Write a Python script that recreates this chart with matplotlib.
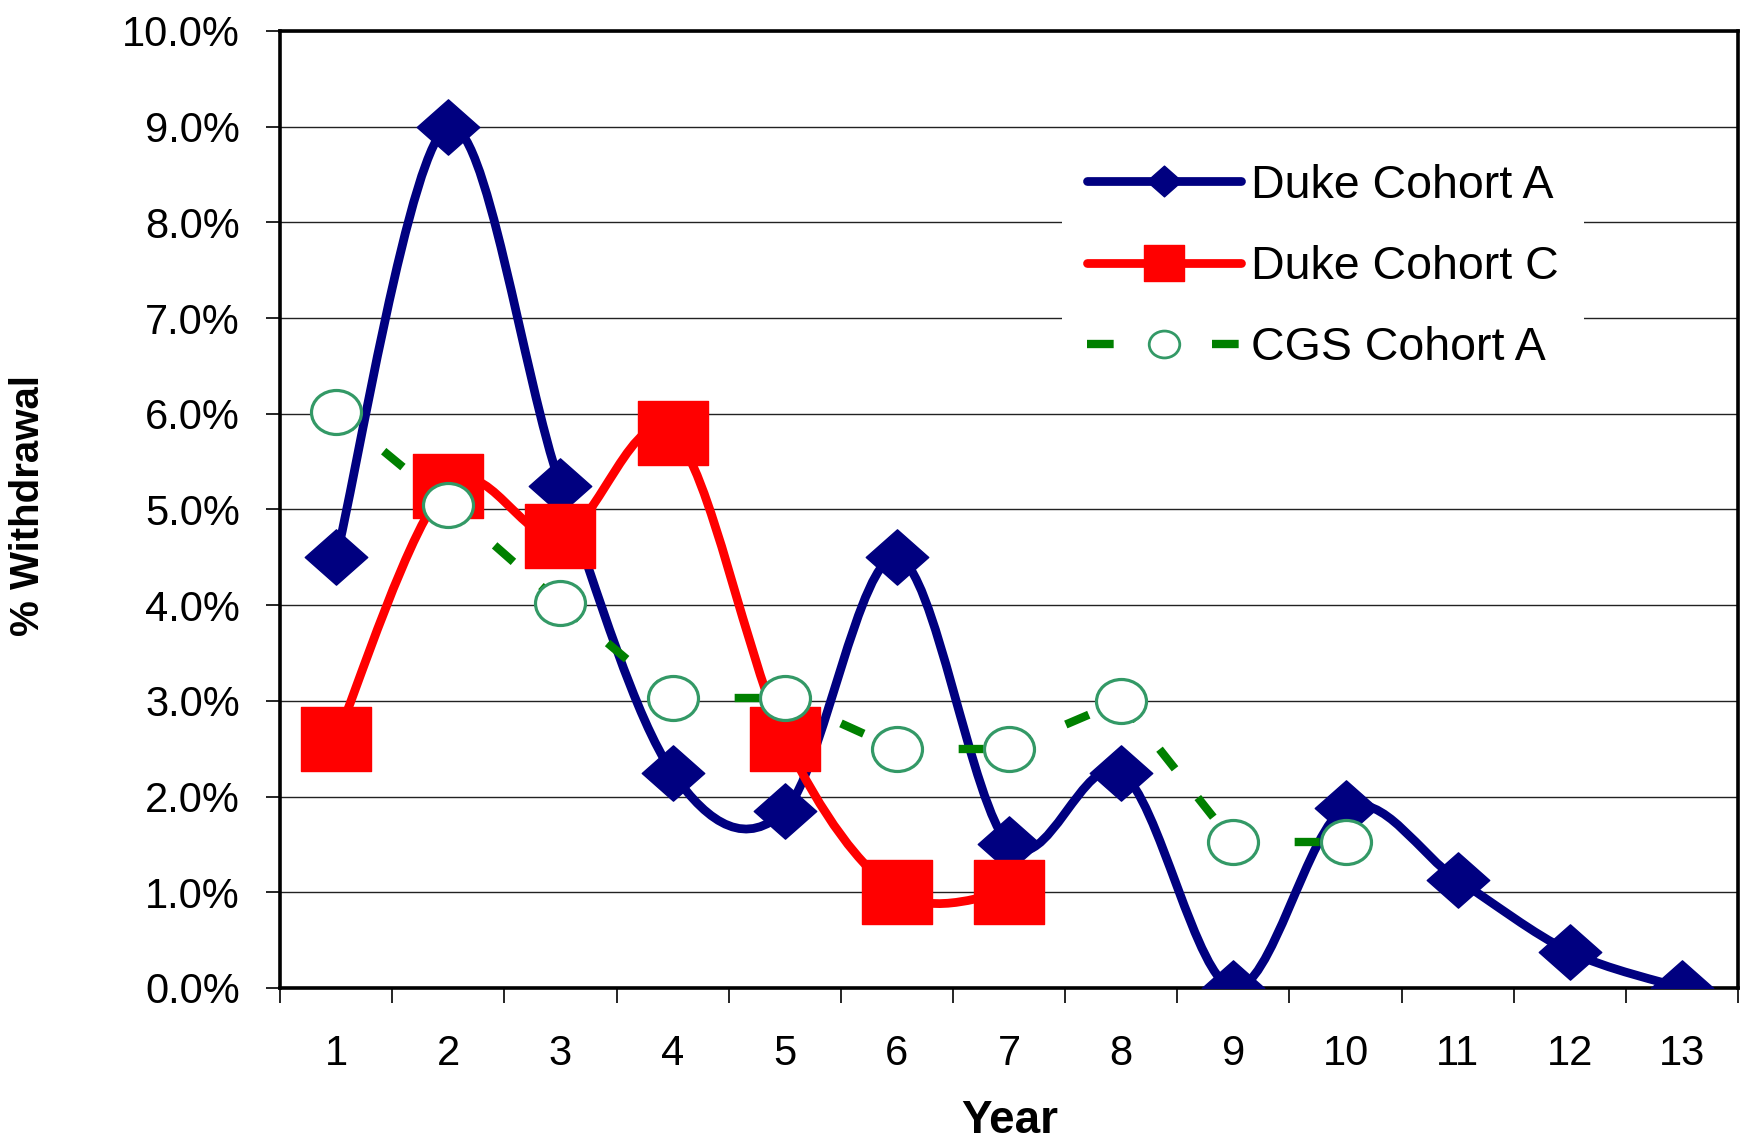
import numpy as np
import matplotlib.pyplot as plt
from matplotlib.path import Path
from matplotlib.patches import PathPatch
from matplotlib.lines import Line2D
from matplotlib.collections import LineCollection
from matplotlib.transforms import Affine2D

plt.rcParams['font.family'] = ['Liberation Sans', 'DejaVu Sans']

years = list(range(1, 14))
duke_a = [4.5, 9.0, 5.25, 2.25, 1.85, 4.5, 1.5, 2.25, 0.0, 1.88, 1.13, 0.38, 0.0]
duke_c = [2.6, 5.25, 4.72, 5.8, 2.6, 1.0, 1.0]
cgs_a = [6.02, 5.05, 4.02, 3.03, 3.03, 2.5, 2.5, 3.0, 1.52, 1.52]
labels = ['Duke Cohort A', 'Duke Cohort C', 'CGS Cohort A']

NAVY = '#000080'
RED = '#FF0000'
GREEN = '#008000'
CIRCLE = '#339966'


def smooth_path(x, y):
    # Excel style smoothed line: cubic bezier segments through the points
    pts = np.column_stack([x, y]).astype(float)
    padded = np.vstack([pts[0], pts, pts[-1]])
    verts = [pts[0]]
    codes = [Path.MOVETO]
    for i in range(len(pts) - 1):
        p0, p1, p2, p3 = padded[i], padded[i + 1], padded[i + 2], padded[i + 3]
        verts += [p1 + (p2 - p0) / 6, p2 - (p3 - p1) / 6, p2]
        codes += [Path.CURVE4] * 3
    return Path(verts, codes)


# markers a little wider than tall, as in the original
diamond = Path([(0, 1), (1.13, 0), (0, -1), (-1.13, 0), (0, 1)],
               [Path.MOVETO, Path.LINETO, Path.LINETO, Path.LINETO, Path.CLOSEPOLY])
square = Path([(-1, -0.9), (1, -0.9), (1, 0.9), (-1, 0.9), (-1, -0.9)],
              [Path.MOVETO, Path.LINETO, Path.LINETO, Path.LINETO, Path.CLOSEPOLY])
ellipse = Path.unit_circle().transformed(Affine2D().scale(1, 0.88))

fig, ax = plt.subplots(figsize=(17.44, 11.46), dpi=100)
fig.subplots_adjust(left=0.1606, right=0.9966, top=0.973, bottom=0.1379)

# Duke cohort A
ax.add_patch(PathPatch(smooth_path(years, duke_a), fill=False, ec=NAVY, lw=6.3,
                       capstyle='round', joinstyle='round', zorder=3))
ax.plot(years, duke_a, ls='none', marker=diamond, ms=45, color=NAVY, zorder=3.1)

# Duke cohort C
xc = years[:len(duke_c)]
ax.add_patch(PathPatch(smooth_path(xc, duke_c), fill=False, ec=RED, lw=6.3,
                       capstyle='round', joinstyle='round', zorder=4))
ax.plot(xc, duke_c, ls='none', marker=square, ms=51, color=RED, zorder=4.1)

# CGS cohort A: dash pattern restarts on every segment
xg = years[:len(cgs_a)]
segs = [[(xg[i], cgs_a[i]), (xg[i + 1], cgs_a[i + 1])] for i in range(len(xg) - 1)]
ax.add_collection(LineCollection(segs, colors=GREEN, linewidths=6,
                                 linestyles=[(0, (3.0, 4.4))], capstyle='butt',
                                 zorder=5))
ax.plot(xg, cgs_a, ls='none', marker=ellipse, ms=36, mfc='white',
        mec=CIRCLE, mew=2.3, zorder=5.1)

ax.set_xlim(0.5, 13.5)
ax.set_ylim(0, 10)
ax.set_yticks(range(0, 11))
ax.set_yticklabels([f'{v:.1f}%' for v in range(0, 11)])
ax.set_xticks(years)
ax.set_xticks(np.arange(0.5, 14, 1), minor=True)
ax.tick_params(axis='x', which='major', length=0, pad=33, labelsize=30)
ax.tick_params(axis='x', which='minor', length=11, width=1.2, direction='out')
ax.tick_params(axis='y', length=10, width=1.2, pad=19, labelsize=30)
ax.grid(axis='y', color='#222222', lw=1.0, zorder=0)
for sp in ax.spines.values():
    sp.set_linewidth(2.6)

fig.text(0.016, 0.559, '% Withdrawal', rotation=90, ha='center', va='center',
         fontsize=29, fontweight='bold')
fig.text(0.579, 0.022, 'Year', ha='center', va='center',
         fontsize=33, fontweight='bold')

handles = [
    Line2D([], [], color=NAVY, lw=6.3, marker=diamond, ms=25, solid_capstyle='round'),
    Line2D([], [], color=RED, lw=6.3, marker=square, ms=29, solid_capstyle='round'),
    Line2D([], [], color=GREEN, lw=6, ls=(0, (3.2, 11.8)), marker=ellipse, ms=22,
           mfc='white', mec=CIRCLE, mew=2.0),
]
leg = ax.legend(handles, labels, loc='upper left', bbox_to_anchor=(0.536, 0.888),
                fontsize=33.5, handlelength=3.3, handletextpad=0.22,
                labelspacing=0.8, borderpad=0.55, borderaxespad=0,
                frameon=True, fancybox=False, framealpha=1, facecolor='white',
                edgecolor='none', numpoints=1)
leg.set_zorder(6)

fig.savefig('out.png', dpi=100)
